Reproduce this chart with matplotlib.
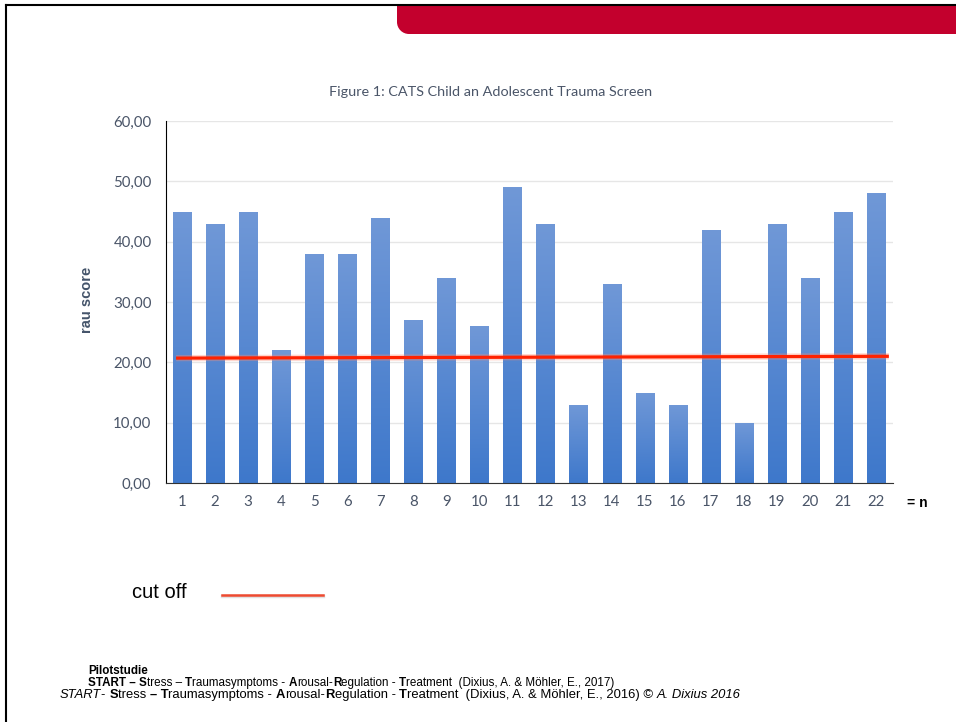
import numpy as np
import matplotlib
matplotlib.use("Agg")
import matplotlib.pyplot as plt
from matplotlib.patches import Rectangle, PathPatch
from matplotlib.path import Path
from matplotlib.lines import Line2D
from matplotlib.colors import LinearSegmentedColormap

# CATS scores per participant
participants = list(range(1, 23))
scores = [45, 43, 45, 22, 38, 38, 44, 27, 34, 26, 49, 43, 13, 33, 15, 13, 42, 10, 43, 34, 45, 48]
cutoff_start = 20.7
cutoff_end = 21.0
y_ticks = [0, 10, 20, 30, 40, 50, 60]

W, H = 956, 722
fig = plt.figure(figsize=(W / 100, H / 100), dpi=100)
fig.patch.set_facecolor("white")


def fx(px):
    return px / W


def fy(py):
    return 1 - py / H


# slide frame and red header band (only the lower-left corner is rounded)
fig.add_artist(Line2D([fx(6), fx(6)], [0, fy(5)], color="black", lw=1.5))
fig.add_artist(Line2D([fx(6), 1], [fy(5), fy(5)], color="black", lw=1.5))
r = 12
k = 0.5523
verts = [(397, 6), (397, 34 - r),
         (397, 34 - r + k * r), (397 + r - k * r, 34), (397 + r, 34),
         (957, 34), (957, 6), (397, 6)]
codes = [Path.MOVETO, Path.LINETO, Path.CURVE4, Path.CURVE4, Path.CURVE4,
         Path.LINETO, Path.LINETO, Path.CLOSEPOLY]
band = Path([(fx(a), fy(b)) for a, b in verts], codes)
fig.add_artist(PathPatch(band, transform=fig.transFigure, facecolor="#C3002D",
                         edgecolor="none"))

ax = fig.add_axes([fx(165.5), fy(483), fx(892.5) - fx(165.5), fy(121) - fy(483)])

# bars with a vertical gradient, lighter at the top
cmap = LinearSegmentedColormap.from_list("bar", ["#3E78CB", "#7098D7"])
grad = np.linspace(0, 1, 256).reshape(-1, 1)
width = 0.55
for x, v in zip(participants, scores):
    rect = Rectangle((x - width / 2, 0), width, v, facecolor="none", edgecolor="none")
    ax.add_patch(rect)
    im = ax.imshow(grad, cmap=cmap, origin="lower", aspect="auto",
                   extent=(x - width / 2, x + width / 2, 0, v), zorder=2)
    im.set_clip_path(rect)
ax.set_xlim(0.5, 22.5)
ax.set_ylim(0, 60)

# cut-off line
ax.plot([0.82, 22.39], [cutoff_start, cutoff_end], color="#FF8A70", lw=4.5, alpha=0.35,
        solid_capstyle="butt", zorder=3)
ax.plot([0.82, 22.39], [cutoff_start, cutoff_end], color="#FF2200", lw=2.3,
        solid_capstyle="butt", zorder=4)

ax.set_yticks(y_ticks)
ax.set_yticklabels([f"{t:.2f}".replace(".", ",") for t in y_ticks])
ax.set_xticks(participants)
ax.set_xticklabels([str(p) for p in participants])
ax.grid(axis="y", color="#E6E6E6", lw=1)
ax.set_axisbelow(True)
for s in ["top", "right"]:
    ax.spines[s].set_visible(False)
ax.spines["left"].set_color("black")
ax.spines["bottom"].set_color("#333333")
ax.tick_params(length=0, labelsize=10.8, colors="#4A5568", pad=10)
ax.tick_params(axis="x", pad=9)
for lab in ax.get_xticklabels() + ax.get_yticklabels():
    lab.set_fontfamily("Lato")

fig.text(fx(491), fy(92), "Figure 1: CATS Child an Adolescent Trauma Screen",
         ha="center", va="center", fontsize=10.4, family="Lato", color="#4A5568")
fig.text(fx(87), fy(300), "rau score", rotation=90, ha="center", va="center",
         fontsize=10.5, fontweight="bold", family="Liberation Sans", color="#44546A")
fig.text(fx(907), fy(503), "= n", ha="left", va="center", fontsize=10,
         fontweight="bold", family="Liberation Sans", color="black")

# legend for the cut-off line
fig.text(fx(132), fy(592), "cut off", ha="left", va="center", fontsize=14.5,
         family="Liberation Sans", color="black")
fig.add_artist(Line2D([fx(222), fx(323)], [fy(596), fy(596)], color="#888888",
                      lw=2.5, alpha=0.25))
fig.add_artist(Line2D([fx(222), fx(323)], [fy(595), fy(595)], color="#EE4A30", lw=1.8))

# footer lines with mixed bold / italic runs
renderer = fig.canvas.get_renderer()


def draw_runs(x0, y0, runs, size):
    x = fx(x0)
    for txt, weight, style in runs:
        t = fig.text(x, fy(y0), txt, ha="left", va="baseline", fontsize=size,
                     fontweight=weight, fontstyle=style, family="Liberation Sans",
                     color="black")
        bb = t.get_window_extent(renderer=renderer)
        x += bb.width / W


draw_runs(88, 674, [("Pilotstudie", "bold", "normal")], 8.4)
draw_runs(88, 686, [
    ("START – S", "bold", "normal"), ("tress – ", "normal", "normal"),
    ("T", "bold", "normal"), ("raumasymptoms - ", "normal", "normal"),
    ("A", "bold", "normal"), ("rousal-", "normal", "normal"),
    ("R", "bold", "normal"), ("egulation - ", "normal", "normal"),
    ("T", "bold", "normal"), ("reatment  (Dixius, A. & Möhler, E., 2017)", "normal", "normal"),
], 8.4)
draw_runs(60, 698, [
    ("START", "normal", "italic"), ("- ", "normal", "normal"),
    ("S", "bold", "normal"), ("tress ", "normal", "normal"),
    ("– T", "bold", "normal"), ("raumasymptoms - ", "normal", "normal"),
    ("A", "bold", "normal"), ("rousal-", "normal", "normal"),
    ("R", "bold", "normal"), ("egulation - ", "normal", "normal"),
    ("T", "bold", "normal"), ("reatment  (Dixius, A. & Möhler, E., 2016) © ", "normal", "normal"),
    ("A. Dixius 2016", "normal", "italic"),
], 9.4)

fig.savefig("out.png", dpi=100, facecolor="white")
